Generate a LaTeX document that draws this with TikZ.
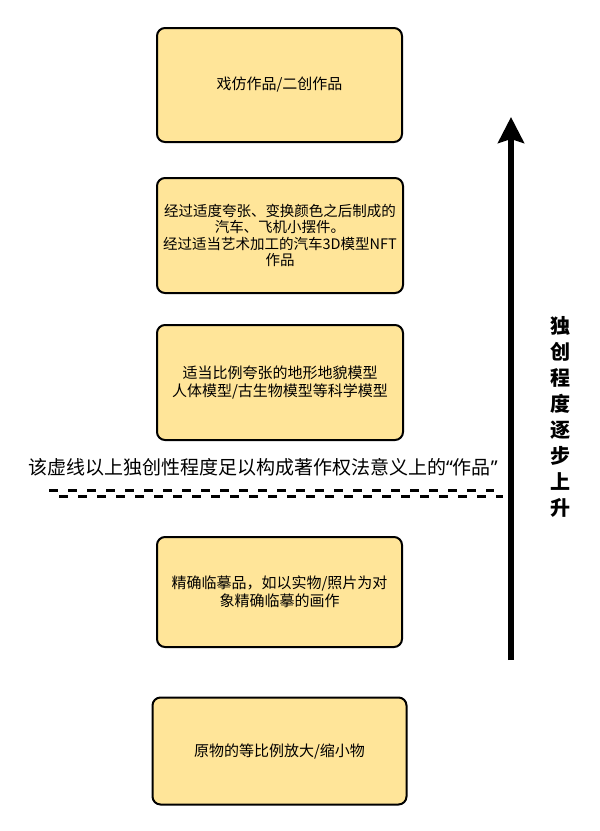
\documentclass[tikz,border=0pt]{standalone}
\usepackage{fontspec}
\newfontfamily\cjk{Noto Sans CJK SC}
\newfontfamily\latq{Noto Sans}
\usetikzlibrary{arrows.meta}
\definecolor{boxfill}{HTML}{FFE599}
\tikzset{
  stagebox/.style={draw=black, line width=2pt, fill=boxfill, rounded corners=8pt,
    align=center, inner sep=0pt, font=\cjk\fontsize{15pt}{18pt}\selectfont},
  cutline/.style={line width=3pt, dash pattern=on 9pt off 10pt},
}
\begin{document}
\begin{tikzpicture}[x=1pt,y=-1pt]
\useasboundingbox (0,0) rectangle (600,831);
% boxes
\node[stagebox, minimum width=245pt, minimum height=114pt] (b1) at (279.5,85) {戏仿作品/二创作品};
\node[stagebox, minimum width=246pt, minimum height=115pt, font=\cjk\fontsize{14.5pt}{16.5pt}\selectfont] (b2) at (280,235.5)
  {经过适度夸张、变换颜色之后制成的\\汽车、飞机小摆件。\\经过适当艺术加工的汽车3D模型NFT\\作品};
\node[stagebox, minimum width=246pt, minimum height=115pt] (b3) at (280,382.5)
  {适当比例夸张的地形地貌模型\\人体模型/古生物模型等科学模型};
\node[stagebox, minimum width=245pt, minimum height=110pt] (b4) at (279.5,592)
  {精确临摹品，如以实物/照片为对\\象精确临摹的画作};
\node[stagebox, minimum width=254pt, minimum height=107pt] (b5) at (279.5,751)
  {原物的等比例放大/缩小物};
% threshold label and dashed lines
\node[font=\cjk\fontsize{19pt}{22pt}\selectfont, inner sep=0pt] (lbl) at (263,467)
  {该虚线以上独创性程度足以构成著作权法意义上的{\latq “}作品{\latq ”}};
\coordinate (d1a) at (49,490);
\coordinate (d1b) at (494,490);
\coordinate (d2a) at (59,496);
\coordinate (d2b) at (503,496);
\draw[cutline] (d1a) -- (d1b);
\draw[cutline] (d2a) -- (d2b);
% arrow
\coordinate (arrS) at (511,660);
\coordinate (arrE) at (511,117);
\draw[line width=5.5pt, -{Stealth[length=26pt, width=26pt, inset=4pt]}] (arrS) -- (arrE);
\node[font=\cjk\bfseries\fontsize{20pt}{26pt}\selectfont, align=center, inner sep=0pt] (vt) at (560,417)
  {独\\创\\程\\度\\逐\\步\\上\\升};
\end{tikzpicture}
\end{document}
